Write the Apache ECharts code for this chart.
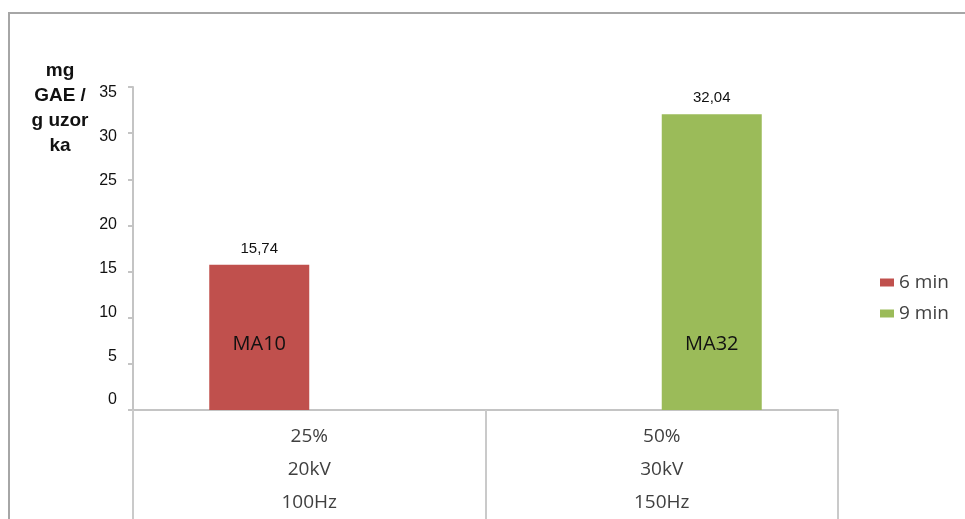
<!DOCTYPE html>
<html>
<head>
<meta charset="utf-8">
<script src="https://cdn.jsdelivr.net/npm/echarts@6/dist/echarts.min.js"></script>
<style>
    html, body { margin: 0; padding: 0; background: #fff; }
    #wrap { position: relative; width: 965px; height: 519px; }
    #frame {
        position: absolute; left: 8px; top: 12px; right: 0; bottom: 0;
        border-top: 2px solid #a6a6a6; border-left: 2px solid #a6a6a6;
    }
    #chart { position: absolute; left: 0; top: 0; width: 965px; height: 519px; }
</style>
</head>
<body>
<div id="wrap">
    <div id="frame"></div>
    <div id="chart"></div>
</div>
<script>
    // kategorije (tri reda ispod osi)
    var concentrations = ['25%', '50%'];
    var voltages = ['20kV', '30kV'];
    var frequencies = ['100Hz', '150Hz'];

    // serije
    var seriesNames = ['6 min', '9 min'];
    var sixMin = [15.74, '-'];
    var nineMin = ['-', 32.04];
    var sampleCodes = ['MA10', 'MA32'];

    var yTicks = [0, 5, 10, 15, 20, 25, 30, 35];

    var categories = concentrations.map(function (c, i) {
        return c + '\n' + voltages[i] + '\n' + frequencies[i];
    });

    var calibriLike = '"Open Sans", Lato, sans-serif';
    var arialLike = '"Liberation Sans", Arial, sans-serif';

    function commaValue(p) {
        return Number(p.value).toFixed(2).replace('.', ',');
    }

    function barSeries(name, data, color) {
        return {
            name: name,
            type: 'bar',
            data: data,
            barWidth: 100,
            barGap: '0%',
            itemStyle: { color: color },
            label: {
                show: true,
                position: 'insideBottom',
                distance: 56,
                formatter: function (p) { return sampleCodes[p.dataIndex]; },
                color: '#111',
                fontFamily: calibriLike,
                fontSize: 20
            },
            markPoint: {
                symbol: 'rect',
                symbolSize: [1, 1],
                itemStyle: { color: 'rgba(0,0,0,0)' },
                data: [{ type: 'max' }],
                label: {
                    show: true,
                    position: 'top',
                    distance: 8,
                    formatter: commaValue,
                    color: '#111',
                    fontFamily: arialLike,
                    fontSize: 15
                }
            }
        };
    }

    var chart = echarts.init(document.getElementById('chart'));
    chart.setOption({
        animation: false,
        title: {
            text: 'mg\nGAE /\ng uzor\nka',
            left: 55,
            top: 53,
            textAlign: 'center',
            textStyle: {
                fontFamily: arialLike,
                fontWeight: 'bold',
                fontSize: 19,
                lineHeight: 25,
                color: '#111'
            }
        },
        legend: {
            orient: 'vertical',
            left: 875,
            top: 268,
            itemWidth: 14,
            itemHeight: 8,
            itemGap: 12,
            icon: 'rect',
            data: seriesNames,
            textStyle: {
                fontFamily: calibriLike,
                fontSize: 19,
                lineHeight: 19,
                color: '#404040'
            }
        },
        grid: {
            left: 133,
            right: 127,
            top: 87,
            bottom: 107,
            containLabel: false
        },
        xAxis: {
            type: 'category',
            data: categories,
            axisLine: { lineStyle: { color: '#c4c4c4', width: 2 } },
            axisTick: { show: true, length: 110, lineStyle: { color: '#cacaca', width: 2 } },
            axisLabel: {
                margin: 10,
                lineHeight: 33,
                fontFamily: calibriLike,
                fontSize: 19,
                color: '#404040'
            }
        },
        yAxis: [
            {
                type: 'value',
                min: 0,
                max: 35,
                interval: 5,
                axisLine: { show: true, lineStyle: { color: '#c4c4c4', width: 2 } },
                axisTick: { show: true, length: 5, lineStyle: { color: '#c4c4c4', width: 2 } },
                axisLabel: { show: false },
                splitLine: { show: false }
            },
            {
                // samo brojke; u originalu su malo zbijenije od crtica
                type: 'value',
                position: 'left',
                min: -1.13,
                max: 35.68,
                axisLine: { show: false },
                axisTick: { show: false },
                splitLine: { show: false },
                axisLabel: {
                    customValues: yTicks,
                    margin: 16,
                    fontFamily: arialLike,
                    fontSize: 16,
                    color: '#111'
                }
            }
        ],
        series: [
            barSeries(seriesNames[0], sixMin, '#c0504d'),
            barSeries(seriesNames[1], nineMin, '#9bbb59')
        ]
    });
</script>
</body>
</html>
